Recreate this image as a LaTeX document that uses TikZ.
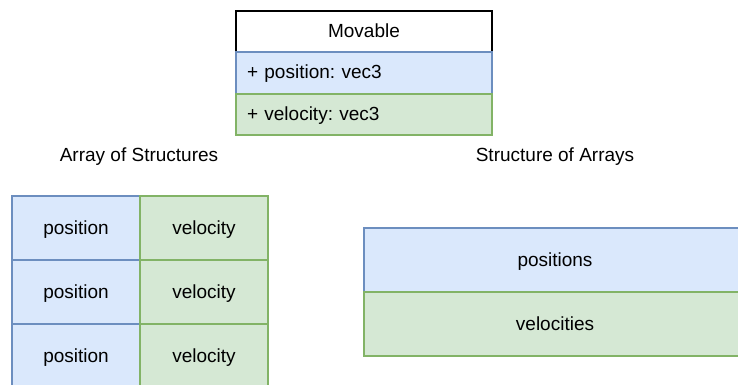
\documentclass[tikz,border=0pt]{standalone}
\usepackage{fontspec}
\setmainfont{Liberation Sans}
\frenchspacing
\definecolor{bluefill}{HTML}{DAE8FC}
\definecolor{bluedraw}{HTML}{6C8EBF}
\definecolor{greenfill}{HTML}{D5E8D4}
\definecolor{greendraw}{HTML}{82B366}
\tikzset{
  cell/.style={rectangle, inner sep=0pt, outer sep=0pt, anchor=north west, line width=1.4pt, font=\fontsize{19}{22}\selectfont, text height=15.2pt, text depth=3.2pt},
  bluecell/.style={cell, fill=bluefill, draw=bluedraw},
  greencell/.style={cell, fill=greenfill, draw=greendraw},
  headcell/.style={cell, fill=white, draw=black},
  caption/.style={font=\fontsize{19}{22}\selectfont, inner sep=0pt, text height=15.2pt, text depth=3.2pt}
}
\begin{document}
\begin{tikzpicture}[x=1pt,y=-1pt]
\useasboundingbox (0,0) rectangle (738,385);
\clip (0,0) rectangle (738,385);
% Movable class
\node[headcell, minimum width=256pt, minimum height=41pt] (mov) at (236,11) {Movable};
\node[bluecell, minimum height=42pt, text width=234pt, inner xsep=11pt, align=left] (movpos) at (236,52) {+ position: vec3};
\node[greencell, minimum height=41pt, text width=234pt, inner xsep=11pt, align=left] (movvel) at (236,94) {+ velocity: vec3};
% captions
\node[caption] (aoslabel) at (139,155) {Array of Structures};
\node[caption] (soalabel) at (555,155) {Structure of Arrays};
% Array of Structures
\node[bluecell, minimum width=128pt, minimum height=64pt] (p1) at (12,196) {position};
\node[bluecell, minimum width=128pt, minimum height=64pt] (p2) at (12,260) {position};
\node[bluecell, minimum width=128pt, minimum height=64pt] (p3) at (12,324) {position};
\node[greencell, minimum width=128pt, minimum height=64pt] (v1) at (140,196) {velocity};
\node[greencell, minimum width=128pt, minimum height=64pt] (v2) at (140,260) {velocity};
\node[greencell, minimum width=128pt, minimum height=64pt] (v3) at (140,324) {velocity};
% Structure of Arrays
\node[bluecell, minimum width=382pt, minimum height=64pt] (ps) at (364,228) {positions};
\node[greencell, minimum width=382pt, minimum height=64pt] (vs) at (364,292) {velocities};
\end{tikzpicture}
\end{document}
